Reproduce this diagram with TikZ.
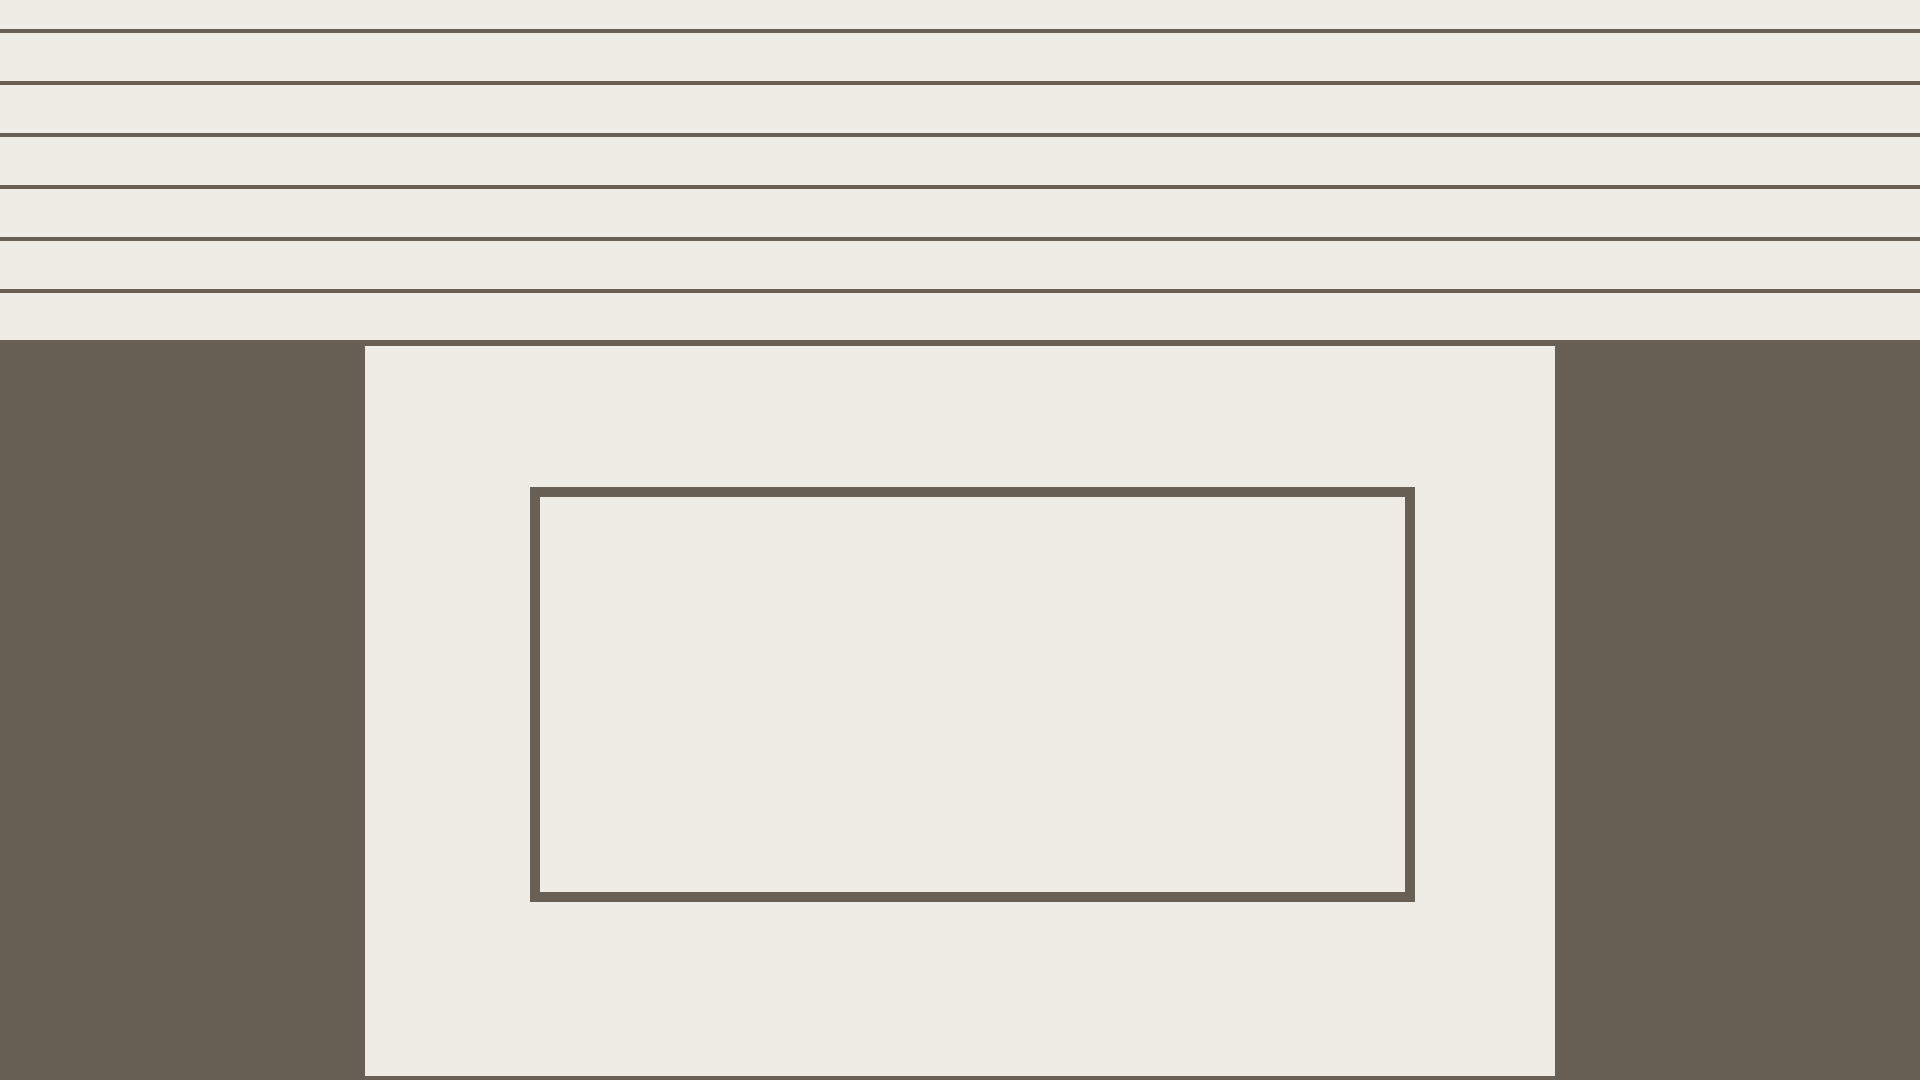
\documentclass[tikz,border=0pt]{standalone}
\definecolor{paper}{RGB}{239,236,230}
\definecolor{ink}{RGB}{104,96,84}
\tikzset{
  rule/.style={draw=ink, line width=4.5pt},
  frame/.style={draw=ink, line width=10pt}
}
\begin{document}
\begin{tikzpicture}[x=1pt,y=-1pt]
\useasboundingbox (0,0) rectangle (1920,1080);
\fill[paper] (0,0) rectangle (1920,1080);
\foreach \yy in {31,83,135,187,239,291} {
  \draw[rule] (0,\yy) -- (1920,\yy);
}
\fill[ink] (0,340) rectangle (1920,1080);
\fill[paper] (365,346) rectangle (1555,1076);
\draw[frame] (535,492) rectangle (1410,897);
\end{tikzpicture}
\end{document}
